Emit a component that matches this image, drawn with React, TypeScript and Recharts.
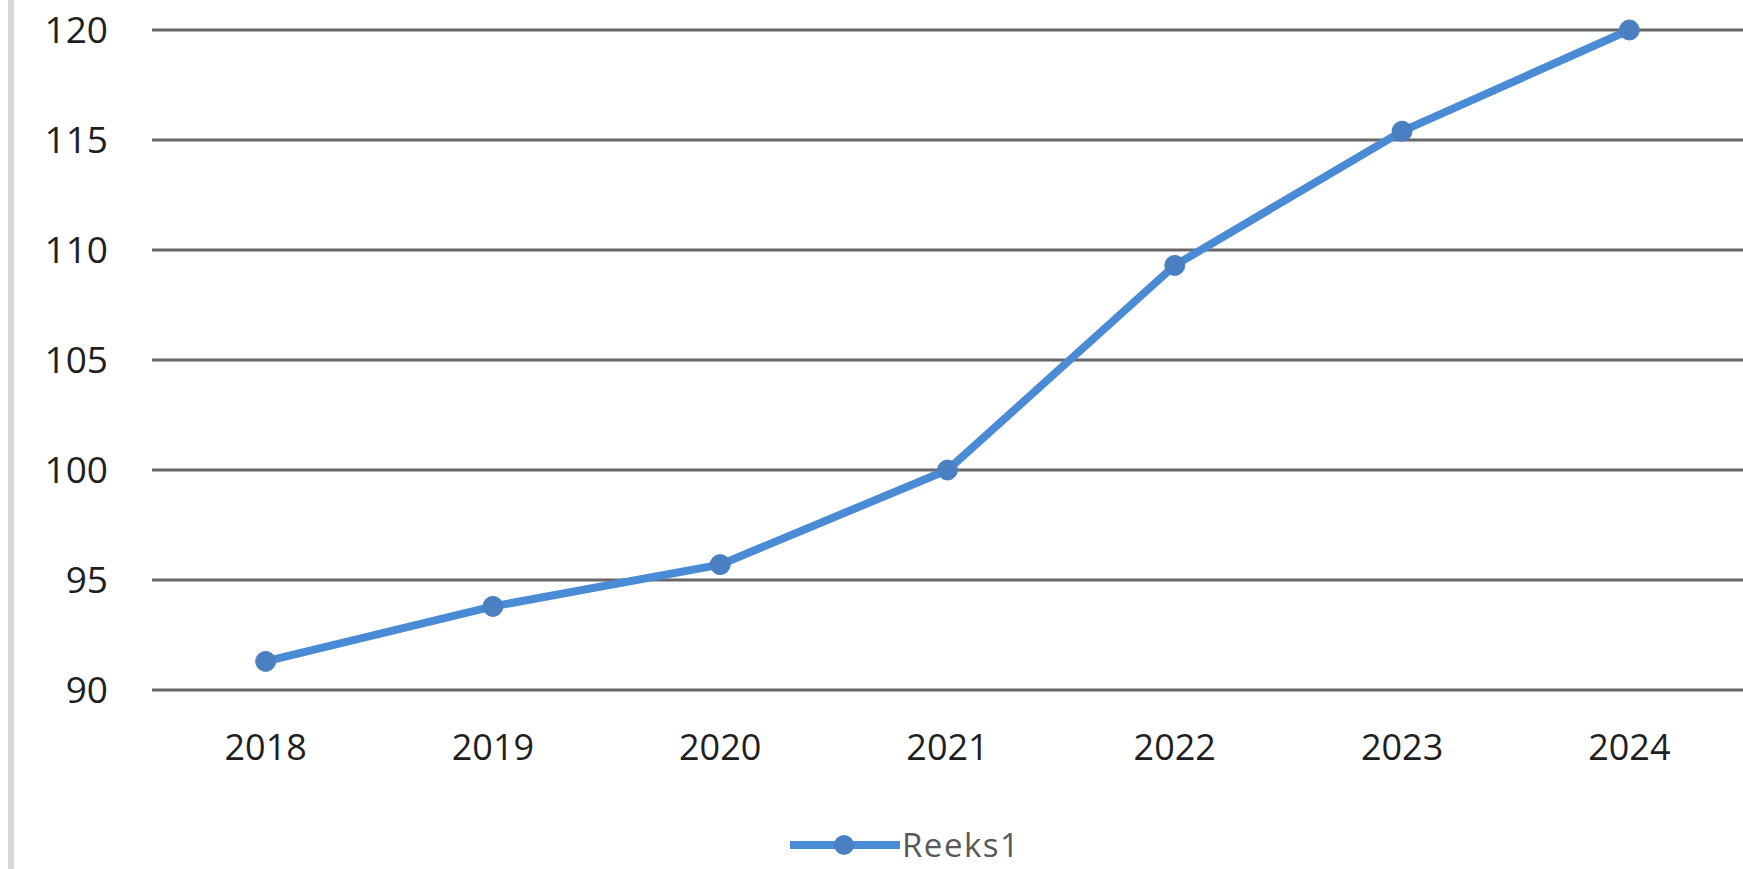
import React from 'react';
import { ComposedChart, Line, XAxis, YAxis, CartesianGrid, Legend } from 'recharts';

const years = ['2018', '2019', '2020', '2021', '2022', '2023', '2024'];
const reeks1 = [91.3, 93.8, 95.7, 100, 109.3, 115.4, 120];
const yTicks = [90, 95, 100, 105, 110, 115, 120];
const seriesName = 'Reeks1';

const data = years.map((y, i) => ({ year: y, Reeks1: reeks1[i] }));

const LINE_COLOR = '#4a8bd6';
const MARKER_COLOR = '#4a7fc2';
const FONT = '"Open Sans", "Liberation Sans", sans-serif';

const renderLegend = (props: any) => {
  const payload = props.payload || [];
  return (
    <div style={{ display: 'flex', alignItems: 'center' }}>
      {payload.map((p: any, i: number) => (
        <div key={i} style={{ display: 'flex', alignItems: 'center' }}>
          <svg width={110} height={30} style={{ display: 'block' }}>
            <line x1={1} y1={15} x2={108} y2={15} stroke={LINE_COLOR} strokeWidth={8} strokeLinecap="round" />
            <circle cx={54} cy={15} r={10} fill={MARKER_COLOR} />
          </svg>
          <span
            style={{
              fontFamily: FONT,
              fontSize: 33,
              color: '#595959',
              letterSpacing: 1.5,
              marginLeft: 2,
              lineHeight: '40px',
            }}
          >
            {p.value}
          </span>
        </div>
      ))}
    </div>
  );
};

export default function App() {
  return (
    <div style={{ position: 'absolute', left: 0, top: 0, width: 1743, height: 869, background: '#ffffff', overflow: 'hidden' }}>
      <div style={{ position: 'absolute', left: 8, top: 0, width: 6, height: 869, background: '#d6d6d6' }} />
      <ComposedChart
        width={1743}
        height={869}
        data={data}
        margin={{ top: 30, right: 0, left: 0, bottom: 79 }}
      >
        <CartesianGrid horizontal={true} vertical={false} stroke="#676767" strokeWidth={3} />
        <XAxis
          dataKey="year"
          scale="band"
          axisLine={false}
          tickLine={false}
          tickSize={0}
          tickMargin={44}
          height={100}
          interval={0}
          tick={{ fill: '#1f1f1f', fontSize: 36, fontFamily: FONT }}
        />
        <YAxis
          domain={[90, 120]}
          ticks={yTicks}
          interval={0}
          axisLine={false}
          tickLine={false}
          tickSize={0}
          tickMargin={44}
          width={152}
          tick={{ fill: '#1f1f1f', fontSize: 37, fontFamily: FONT }}
        />
        <Legend
          verticalAlign="middle"
          align="center"
          layout="horizontal"
          content={renderLegend}
          wrapperStyle={{ top: 825, left: 790, width: 320 }}
        />
        <Line
          type="linear"
          dataKey="Reeks1"
          name={seriesName}
          stroke={LINE_COLOR}
          strokeWidth={8}
          dot={{ r: 10, fill: MARKER_COLOR, stroke: MARKER_COLOR, strokeWidth: 1 }}
          activeDot={false}
          isAnimationActive={false}
        />
      </ComposedChart>
    </div>
  );
}
